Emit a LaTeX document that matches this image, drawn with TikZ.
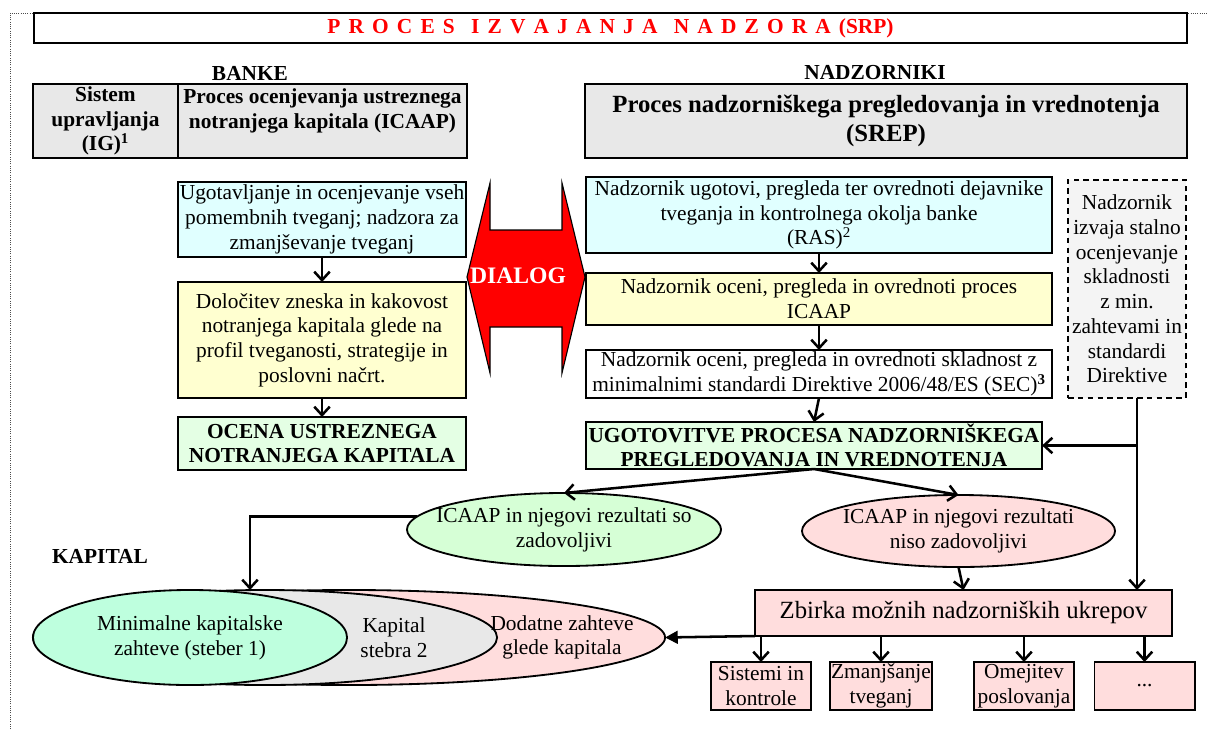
\documentclass[tikz,border=0pt]{standalone}
\usepackage{fontspec}
\setmainfont{Liberation Serif}
\usetikzlibrary{shapes.geometric, arrows.meta}
\definecolor{hdrgray}{RGB}{232,232,232}
\definecolor{riskcyan}{RGB}{224,255,255}
\definecolor{capyellow}{RGB}{255,255,208}
\definecolor{okgreen}{RGB}{228,255,228}
\definecolor{ellgreen}{RGB}{214,255,214}
\definecolor{mintgreen}{RGB}{190,255,222}
\definecolor{rosepink}{RGB}{255,221,221}
\definecolor{dashgray}{RGB}{244,244,244}
\definecolor{dialogred}{RGB}{255,0,0}
\newcommand{\boxfont}{\fontsize{15.2}{17.6}\selectfont}
\newcommand{\bigboxfont}{\fontsize{17.6}{20.5}\selectfont}
\tikzset{
    box/.style={rectangle, draw=black, line width=1.4pt, inner sep=0pt, outer sep=0pt, align=center, font=\boxfont},
    hdr/.style={box, fill=hdrgray, font=\boxfont\bfseries},
    oval/.style={ellipse, draw=black, line width=1.3pt, inner sep=0pt, outer sep=0pt, align=center, font=\boxfont},
    lbl/.style={align=center, font=\boxfont, inner sep=0pt},
    small/.style={box, fill=rosepink, minimum width=2.5cm, minimum height=1.2cm, inner xsep=1pt},
    arrow/.style={-{Straight Barb[length=6pt,width=11pt]}, line width=1.8pt}
}

\begin{document}
\begin{tikzpicture}[x=0.025cm, y=-0.025cm]
    \useasboundingbox (0,0) rectangle (1207,729);
    \draw[densely dotted, line width=0.6pt, black!70] (10,729) -- (10,13) -- (1207,13);

    \node (title) [box, fill=white, minimum width=28.825cm, minimum height=0.75cm, font=\boxfont\bfseries, text=red] at (610.5,28) {\spaceskip=5.8pt\relax P R O C E S\hspace{5.8pt} I Z V A J A N J A\hspace{5.8pt} N A D Z O R A (SRP)};

    \node (banke) [font=\boxfont\bfseries] at (250,73) {BANKE};
    \node (nadz) [font=\boxfont\bfseries] at (875,73) {NADZORNIKI};
    \node (hdrig) [hdr, minimum width=3.625cm, minimum height=1.85cm] at (105.5,121) {Sistem\\upravljanja\\(IG)\textsuperscript{1}};
    \node (hdricaap) [hdr, minimum width=7.225cm, minimum height=1.85cm] at (322.5,121) {Proces ocenjevanja ustreznega\\notranjega kapitala (ICAAP)\\\mbox{}};
    \node (srep) [hdr, font=\bigboxfont\bfseries, minimum width=15.05cm, minimum height=1.85cm] at (886,121) {Proces nadzorniškega pregledovanja in vrednotenja\\(SREP)};

    \node (risk) [box, fill=riskcyan, minimum width=7.2cm, minimum height=1.875cm] at (322,219.5) {Ugotavljanje in ocenjevanje vseh\\pomembnih tveganj; nadzora za\\zmanjševanje tveganj};
    \node (capital) [box, fill=capyellow, minimum width=7.2cm, minimum height=2.9cm] at (322,340) {Določitev zneska in kakovost\\notranjega kapitala glede na\\profil tveganosti, strategije in\\poslovni načrt.};
    \node (ocena) [box, fill=okgreen, font=\boxfont\bfseries, minimum width=7.2cm, minimum height=1.325cm] at (322,443.5) {OCENA USTREZNEGA\\NOTRANJEGA KAPITALA};

    \filldraw[fill=dialogred, draw=black, line width=0.8pt] (467,277) -- (490,183) -- (490,230) -- (562,230) -- (562,183) -- (585,277) -- (562,373) -- (562,327) -- (490,327) -- (490,373) -- cycle;
    \node (dialog) [font=\fontsize{16.8}{19}\selectfont\bfseries, text=white] at (518,276) {DIALOG};

    \node (ras) [box, fill=riskcyan, minimum width=11.65cm, minimum height=1.9cm] at (819,215) {Nadzornik ugotovi, pregleda ter ovrednoti dejavnike\\tveganja in kontrolnega okolja banke\\(RAS)\textsuperscript{2}};
    \node (icaap) [box, fill=capyellow, minimum width=11.65cm, minimum height=1.3cm] at (819,299) {Nadzornik oceni, pregleda in ovrednoti proces\\ICAAP};
    \node (sec) [box, fill=white, minimum width=11.65cm, minimum height=1.2cm] at (819,374) {Nadzornik oceni, pregleda in ovrednoti skladnost z\\minimalnimi standardi Direktive 2006/48/ES (SEC)\textsuperscript{\textbf{3}}};
    \node (ugot) [box, fill=okgreen, font=\boxfont\bfseries, minimum width=11.4cm, minimum height=1.175cm] at (814,445.5) {UGOTOVITVE PROCESA NADZORNIŠKEGA\\PREGLEDOVANJA IN VREDNOTENJA};
    \node (cont) [box, dash pattern=on 4pt off 3pt, fill=dashgray, minimum width=2.95cm, minimum height=5.45cm] at (1127,289) {Nadzornik\\izvaja stalno\\ocenjevanje\\skladnosti\\z min.\\zahtevami in\\standardi\\Direktive};

    \node (ok) [oval, fill=ellgreen, minimum width=7.85cm, minimum height=1.825cm, label={[lbl]center:{ICAAP in njegovi rezultati so\\zadovoljivi}}] at (564,529.5) {};
    \node (notok) [oval, fill=rosepink, minimum width=7.825cm, minimum height=1.8cm, label={[lbl]center:{ICAAP in njegovi rezultati\\niso zadovoljivi}}] at (958.5,531) {};

    \node (kapital) [font=\boxfont\bfseries] at (100,556) {KAPITAL};
    \node (dodatne) [oval, fill=rosepink, minimum width=15.8cm, minimum height=2.375cm] at (349,637.5) {};
    \node (stebra) [oval, fill=hdrgray, minimum width=11.6cm, minimum height=2.375cm] at (265,637.5) {};
    \node (minimal) [oval, fill=mintgreen, minimum width=7.85cm, minimum height=2.375cm] at (190,637.5) {Minimalne kapitalske\\zahteve (steber 1)};
    \node (stebratxt) [lbl] at (394,637.5) {Kapital\\stebra 2};
    \node (dodatnetxt) [lbl] at (562,637.5) {Dodatne zahteve\\glede kapitala};

    \node (zbirka) [box, fill=rosepink, font=\bigboxfont, minimum width=10.425cm, minimum height=1.15cm] at (963.5,613) {Zbirka možnih nadzorniških ukrepov};
    \node (sistemi) [small] at (761,686) {Sistemi in\\kontrole};
    \node (zmanj) [small] at (881,686) {Zmanjšanje\\tveganj};
    \node (omej) [small] at (1024,686) {Omejitev\\poslovanja};
    \node (drugo) [small] at (1144.5,686) {...};

    \coordinate (drop) at (1137,398);
    \coordinate (kapin) at (250,590);

    \draw[arrow] (risk) -- (capital);
    \draw[arrow] (capital) -- (ocena);
    \draw[arrow] (ras) -- (icaap);
    \draw[arrow] (icaap) -- (sec);
    \draw[arrow] (sec.south) -- (ugot.north);
    \draw[arrow] (drop) -- (drop |- zbirka.north);
    \draw[arrow] (drop |- ugot.east) -- (ugot.east);
    \draw[arrow] (ugot.south) -- (ok.north);
    \draw[arrow] (ugot.south) -- (notok.north);
    \draw[arrow] (ok.175) -| (kapin);
    \draw[arrow] (notok.south) -- (zbirka.north);
    \draw[-{Triangle[length=9pt,width=9pt]}, line width=1.8pt] (zbirka.south west) -- (dodatne.east);
    \foreach \b in {sistemi,zmanj,omej,drugo}
        \draw[arrow] (zbirka.south -| \b.north) -- (\b.north);
\end{tikzpicture}
\end{document}
